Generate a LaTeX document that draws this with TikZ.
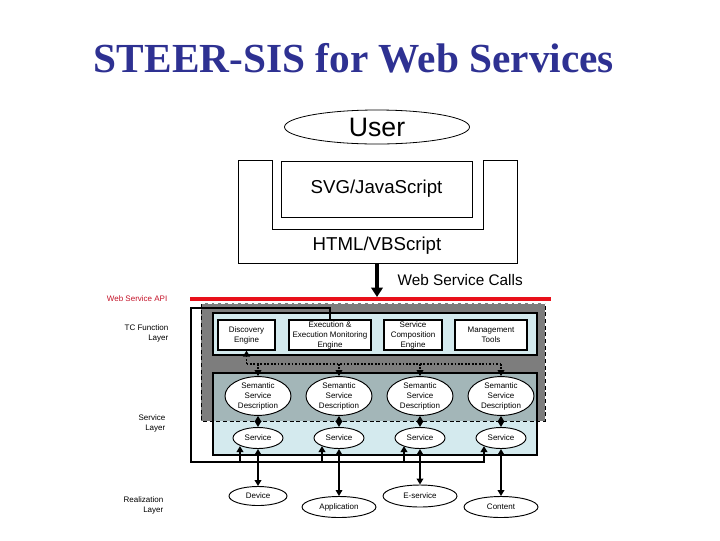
\documentclass[tikz,border=0pt]{standalone}
\usepackage{fontspec}
\setmainfont{Liberation Serif}
\newfontfamily\arial{Liberation Sans}
\usetikzlibrary{arrows.meta,shapes.geometric}
\definecolor{titleblue}{RGB}{46,49,146}
\definecolor{apired}{RGB}{196,18,40}
\definecolor{redline}{RGB}{232,16,26}
\definecolor{gbox}{RGB}{125,125,125}
\definecolor{lblue}{RGB}{212,234,238}
\definecolor{overlapc}{RGB}{163,182,184}
\begin{document}
\begin{tikzpicture}[x=0.75pt,y=-0.75pt,font=\arial,
  small/.style={font=\arial\fontsize{6}{7.5}\selectfont,align=center},
  engine/.style={draw,fill=white,line width=0.8pt,small,minimum width=#1*0.75pt,minimum height=22.5pt,inner sep=0pt},
  ell/.style n args={2}{ellipse,draw,fill=white,line width=0.7pt,small,inner sep=0pt,minimum width=#1*0.75pt,minimum height=#2*0.75pt},
  tri/.style={-{Triangle[width=5pt,length=4.5pt]}},
  dbl/.style={{Triangle[width=5pt,length=4.5pt]}-{Triangle[width=5pt,length=4.5pt]}},
  dotline/.style={line width=1.4pt,dash pattern=on 1.3pt off 1.3pt},
  layerlbl/.style={small,anchor=east,align=right}]
\useasboundingbox (0,0) rectangle (720,540);

% title
\node[font=\bfseries\fontsize{31}{36}\selectfont,text=titleblue] (title) at (354,58) {STEER-SIS for Web Services};

% user
\node[ellipse,draw,line width=0.6pt,inner sep=0pt,minimum width=185*0.75pt,minimum height=34*0.75pt,font=\arial\fontsize{20}{24}\selectfont] (user) at (377,127) {User};

% HTML / SVG
\draw[line width=0.75pt] (238,160) -- (272,160) -- (272,229) -- (483,229) -- (483,160) -- (517,160) -- (517,263) -- (238,263) -- cycle;
\node[draw,line width=0.75pt,minimum width=191*0.75pt,minimum height=56*0.75pt,inner sep=0pt,font=\arial\fontsize{14}{16}\selectfont] (svg) at (376.5,189) {SVG/JavaScript};
\node[font=\arial\fontsize{14}{16}\selectfont] (html) at (377,246) {HTML/VBScript};
\coordinate (htmlbot) at (377,263);
\coordinate (apitop) at (377,297);
\draw[line width=2.4pt,-{Triangle[width=8.5pt,length=7pt]}] (htmlbot) -- (apitop);
\node[anchor=west,font=\arial\fontsize{11.5}{13}\selectfont] (calls) at (393,280) {Web Service Calls};

% red API line
\coordinate (apiL) at (190,299);
\coordinate (apiR) at (551,299);
\draw[redline,line width=3.7pt] (apiL) -- (apiR);

% left labels
\node[layerlbl,text=apired] (apilbl) at (172,299) {Web Service API};
\node[layerlbl] (tclbl) at (173,333) {TC Function\\Layer};
\node[layerlbl] (svlbl) at (170,423) {Service\\Layer};
\node[layerlbl] (rllbl) at (168,505) {Realization\\Layer};

% layer boxes
\fill[gbox] (201,303) rectangle (545,421);
\fill[lblue] (213,373) rectangle (537,455);
\fill[overlapc] (213,373) rectangle (537,421);
\draw[line width=0.8pt] (213,373) rectangle (537,455);
\draw[line width=0.6pt,dash pattern=on 3pt off 2pt] (201,303) -- (201,421) -- (545,421) -- (545,303);
\draw[white,line width=0.6pt,dash pattern=on 3pt off 2pt] (201,303) -- (545,303);
\draw[line width=0.8pt,fill=lblue] (213,313) rectangle (537,355);

% engines
\node[engine=57] (disc) at (246.5,335) {Discovery\\Engine};
\node[engine=82] (exec) at (330,335) {Execution \&\\Execution Monitoring\\Engine};
\node[engine=58] (comp) at (413,335) {Service\\Composition\\Engine};
\node[engine=72] (mgmt) at (491,335) {Management\\Tools};

% semantic descriptions
\node[ell={66}{32}] (sd1) at (258,396) {Semantic\\Service\\Description};
\node[ell={66}{32}] (sd2) at (339,396) {Semantic\\Service\\Description};
\node[ell={66}{32}] (sd3) at (420,396) {Semantic\\Service\\Description};
\node[ell={66}{32}] (sd4) at (501,396) {Semantic\\Service\\Description};

% services
\node[ell={50}{21}] (sv1) at (258,438) {Service};
\node[ell={50}{21}] (sv2) at (339,438) {Service};
\node[ell={50}{21}] (sv3) at (420,438) {Service};
\node[ell={50}{21}] (sv4) at (501,438) {Service};

% realization
\node[ell={58}{19}] (dev) at (258,496) {Device};
\node[ell={74}{21}] (app) at (339,507) {Application};
\node[ell={74}{22}] (esv) at (420,496) {E-service};
\node[ell={74}{21}] (cont) at (501,507) {Content};

% dotted bus
\coordinate (busL) at (246.5,364);
\coordinate (busR) at (501,364);
\draw[dotline] (busL) -- (busR);
\draw[dotline,tri] (busL) -- (disc.south);
\draw[dotline,tri] (sd1 |- busL) -- (sd1.north);
\draw[dotline,tri] (sd2 |- busL) -- (sd2.north);
\draw[dotline,tri] (sd3 |- busL) -- (sd3.north);
\draw[dotline,tri] (sd4 |- busL) -- (sd4.north);

% semantic <-> service
\foreach \i in {1,2,3,4}{
  \draw[line width=1.3pt,dbl] (sd\i.south) -- (sv\i.north);
}

% frame
\coordinate (fTL) at (191,308);
\coordinate (fBL) at (191,462);
\coordinate (fBR) at (484,462);
\draw[line width=1.2pt] (exec.north) -- (exec.north |- fTL) -- (fTL) -- (fBL);
\draw[line width=2.2pt] ([xshift=-0.6pt]fBL) -- ([xshift=0.8pt]fBR);
\coordinate (u1) at (240,462);
\coordinate (u2) at (322,462);
\coordinate (u3) at (404,462);
\coordinate (u4) at (484,462);
\draw[line width=1.5pt,tri] (u1) -- (u1 |- sv1.205);
\draw[line width=1.5pt,tri] (u2) -- (u2 |- sv2.205);
\draw[line width=1.5pt,tri] (u3) -- (u3 |- sv3.205);
\draw[line width=1.5pt,tri] (u4) -- (u4 |- sv4.205);

% service <-> realization
\draw[line width=1.8pt,dbl] (sv1.south) -- (dev.north);
\draw[line width=0.9pt,dbl] (sv2.south) -- (app.north);
\draw[line width=1.8pt,dbl] (sv3.south) -- (esv.north);
\draw[line width=1.8pt,dbl] (sv4.south) -- (cont.north);
\end{tikzpicture}
\end{document}
